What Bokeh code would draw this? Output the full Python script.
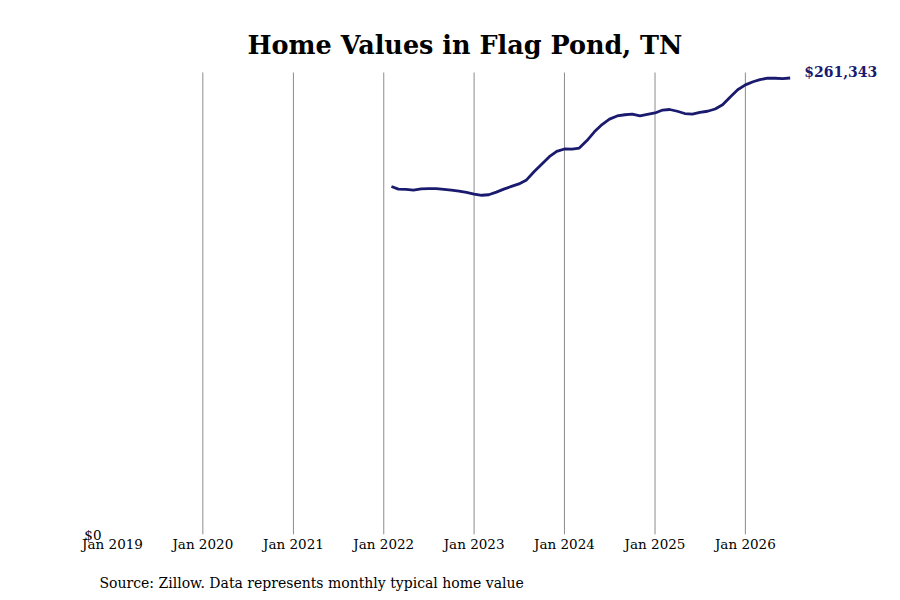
import pandas as pd
from bokeh.plotting import figure
from bokeh.models import (ColumnDataSource, FixedTicker, DatetimeTickFormatter,
                          NumeralTickFormatter, Label, Title, Range1d)
from bokeh.embed import file_html
from bokeh.resources import INLINE

# === Data (monthly typical home value, Flag Pond TN) ===
start_month = "2022-02-01"
home_values = [
    199200, 197700, 197600, 197200, 197900, 198000, 198000, 197600, 197200, 196600, 195800,
    194900, 194200, 194500, 196000, 197700, 199300, 200700, 203000, 207800, 212000, 216300, 219300,
    220700, 220600, 221200, 225500, 230500, 234700, 237800, 239600, 240300, 240700, 239700, 240500,
    241300, 243000, 243300, 242300, 241000, 240600, 241600, 242300, 243600, 246000, 250500, 254600,
    257400, 259200, 260400, 261300, 261200, 261000, 261343,
]
tick_years = ["2019", "2020", "2021", "2022", "2023", "2024", "2025", "2026"]
grid_years = ["2020", "2021", "2022", "2023", "2024", "2025", "2026"]

months = pd.date_range(start_month, periods=len(home_values), freq="MS")
source = ColumnDataSource(dict(month=months, value=home_values))

FONT = "DejaVu Serif"
NAVY = "#1a1a6e"
GRID = "#8c8c8c"

top_value = max(home_values) * 1.0383   # frame top, room for the end label
grid_top = max(home_values) * 1.012     # grid lines stop a bit below


def to_ms(year):
    return pd.Timestamp(f"{year}-01-01").value // 10**6


# ---------- Figure ----------
p = figure(
    width=892, height=600,
    x_axis_type="datetime",
    x_range=Range1d(to_ms("2019"), pd.Timestamp("2027-07-01").value // 10**6),
    y_range=Range1d(0, top_value),
    output_backend="svg",
    toolbar_location=None,
    min_border_left=112, min_border_right=12,
    min_border_top=60, min_border_bottom=66,
)
p.outline_line_color = None
p.background_fill_color = "white"
p.border_fill_color = "white"

p.title.text = "Home Values in Flag Pond, TN"
p.title.text_font = FONT
p.title.text_font_size = "25.5px"
p.title.text_font_style = "bold"
p.title.text_color = "black"
p.title.align = "left"
p.title.offset = 135
p.title.standoff = 1

# x axis: Jan labels
p.xaxis.ticker = FixedTicker(ticks=[to_ms(y) for y in tick_years])
p.xaxis.formatter = DatetimeTickFormatter(years="%b %Y", months="%b %Y", days="%b %Y")
p.xaxis.axis_line_color = None
p.xaxis.major_tick_line_color = None
p.xaxis.minor_tick_line_color = None
p.xaxis.major_label_text_font = FONT
p.xaxis.major_label_text_font_size = "13.5px"
p.xaxis.major_label_text_color = "black"
p.xaxis.major_label_standoff = -5
p.xgrid.grid_line_color = None

# y axis: only $0
p.yaxis.ticker = FixedTicker(ticks=[0])
p.yaxis.formatter = NumeralTickFormatter(format="$0,0")
p.yaxis.axis_line_color = None
p.yaxis.major_tick_line_color = None
p.yaxis.minor_tick_line_color = None
p.yaxis.major_label_text_font = FONT
p.yaxis.major_label_text_font_size = "13.5px"
p.yaxis.major_label_text_color = "black"
p.yaxis.major_label_standoff = 5
p.ygrid.grid_line_color = None

# vertical year lines (every Jan from 2020)
grid_x = [to_ms(y) for y in grid_years]
p.segment(x0=grid_x, y0=[0] * len(grid_x), x1=grid_x, y1=[grid_top] * len(grid_x),
          line_color=GRID, line_width=1)

# ---------- Line ----------
p.line(x="month", y="value", source=source, line_color=NAVY, line_width=2.8)

last = Label(
    x=months[-1], y=home_values[-1], x_offset=14, y_offset=5.5,
    text=f"${home_values[-1]:,}", text_font=FONT, text_font_size="14px",
    text_font_style="bold", text_color=NAVY, text_baseline="middle",
)
p.add_layout(last)

# ---------- Source note (tiny blank title above it as a spacer) ----------
p.add_layout(Title(text="\u00a0", text_font_size="1px"), "below")
note = Title(text="Source: Zillow. Data represents monthly typical home value",
             text_font=FONT, text_font_size="14px", text_font_style="normal",
             text_color="black", align="left", offset=-13)
p.add_layout(note, "below")

open("out.html", "w").write(file_html(p, INLINE))
